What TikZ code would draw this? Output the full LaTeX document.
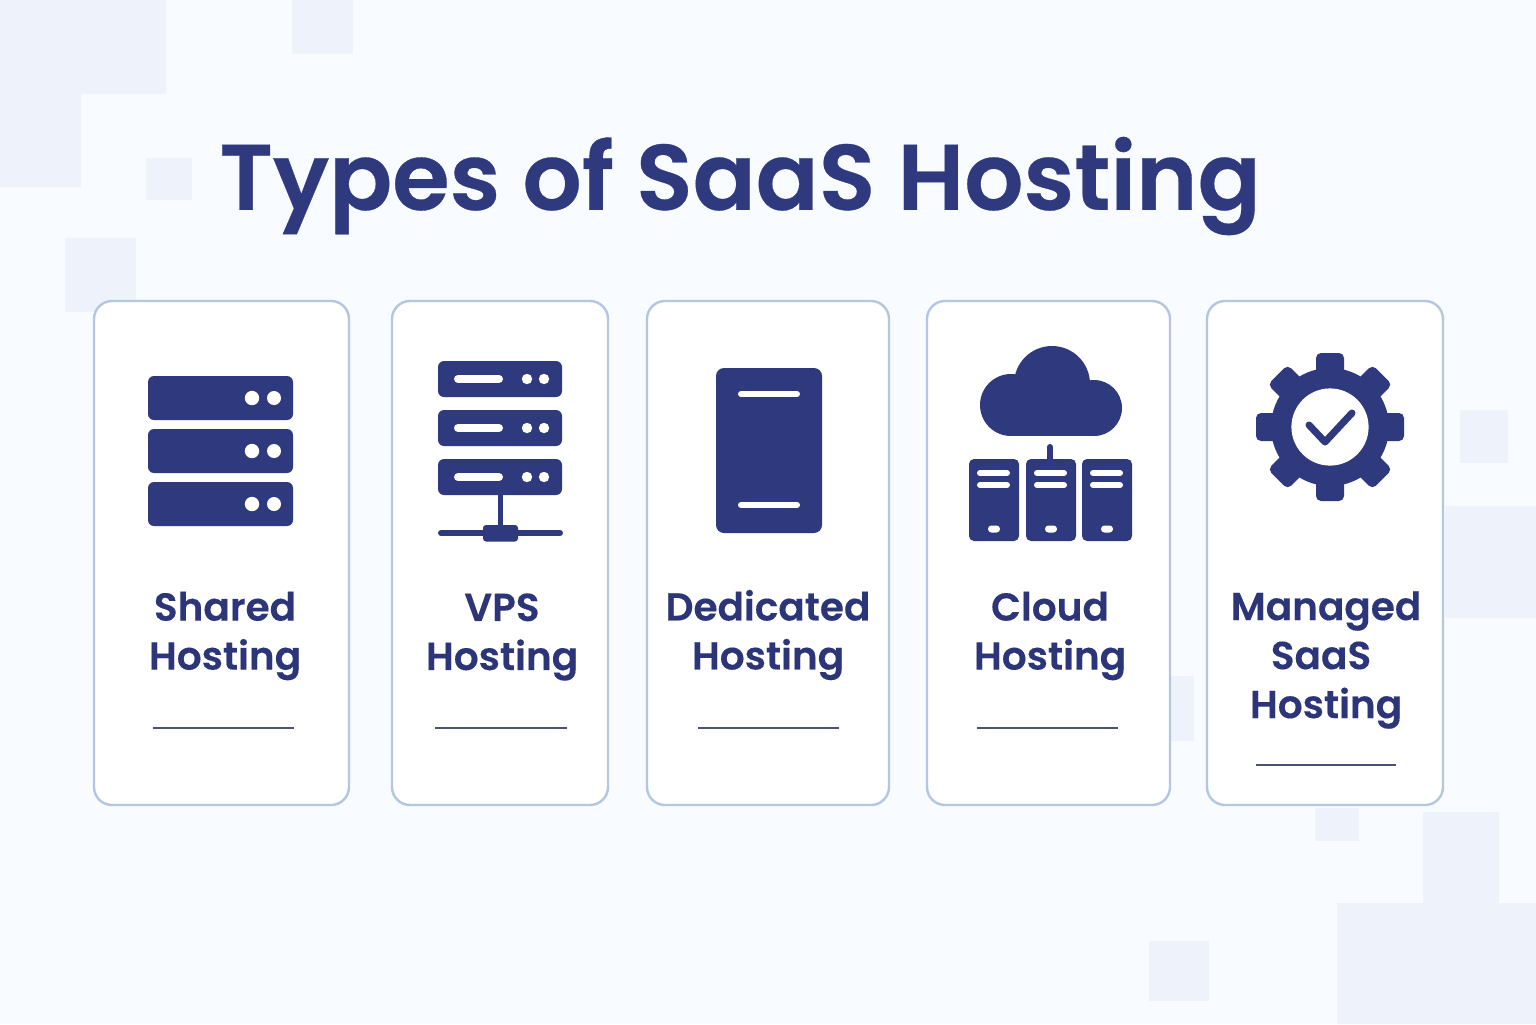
\documentclass[tikz,border=0pt]{standalone}
\usepackage{fontspec}
\usepackage{xcolor}
\setmainfont{Poppins}[BoldFont=Poppins SemiBold, BoldFeatures={FakeBold=0.2}]
\newfontfamily\titlefont{Poppins SemiBold}[FakeBold=0.35]
\usetikzlibrary{positioning}
\definecolor{navy}{HTML}{2F3A7E}
\definecolor{inktext}{HTML}{2B3578}
\definecolor{pagebg}{HTML}{F8FBFF}
\definecolor{patch}{HTML}{EEF2FB}
\definecolor{edge}{HTML}{B5C6E0}
\definecolor{rulegrey}{HTML}{4A5370}

\begin{document}
\begin{tikzpicture}[
  x=0.5pt, y=-0.5pt,
  card/.style={rectangle, draw=edge, line width=1.2pt, fill=white, rounded corners=9pt,
    minimum height=252pt, inner sep=0pt},
  cardtitle/.style={align=center, text=inktext, inner sep=0pt,
    font=\fontsize{19.5}{24.5}\selectfont\bfseries},
  icon/.style={fill=navy, rounded corners=3pt},
  smallicon/.style={fill=navy, rounded corners=2.5pt},
  whitebar/.style={draw=white, line width=3pt, line cap=round},
  navybar/.style={draw=navy, line width=3pt, line cap=round},
  divider/.style={draw=rulegrey, line width=1.3pt}
]
  \useasboundingbox (0,0) rectangle (1536,1024);
  \fill[pagebg] (0,0) rectangle (1536,1024);

  % background patches
  \fill[patch] (0,0) -- (166,0) -- (166,94) -- (81,94) -- (81,187) -- (0,187) -- cycle;
  \fill[patch] (292,0) rectangle (353,54);
  \fill[patch] (146,158) rectangle (192,200);
  \fill[patch] (65,238) rectangle (136,312);
  \fill[patch] (1460,410) rectangle (1508,463);
  \fill[patch] (1445,506) rectangle (1536,618);
  \fill[patch] (1170,676) rectangle (1194,741);
  \fill[patch] (1315,808) rectangle (1359,841);
  \fill[patch] (1423,812) -- (1499,812) -- (1499,903) -- (1536,903) -- (1536,1024) -- (1337,1024) -- (1337,903) -- (1423,903) -- cycle;
  \fill[patch] (1149,941) rectangle (1209,1001);

  \node[text=navy, inner sep=0pt, font=\fontsize{46.5}{50}\titlefont] (title) at (740,186) {Types of SaaS Hosting};

  \node[card, minimum width=127.5pt] (shared) at (221.5,553) {};
  \node[card, minimum width=108pt] (vps) at (500,553) {};
  \node[card, minimum width=121pt] (dedicated) at (768,553) {};
  \node[card, minimum width=121.5pt] (cloud) at (1048.5,553) {};
  \node[card, minimum width=118pt] (managed) at (1325,553) {};

  \node[cardtitle] (sharedtext) at (225,636) {Shared\\Hosting};
  \node[cardtitle] (vpstext) at (502,637) {VPS\\Hosting};
  \node[cardtitle] (dedicatedtext) at (768,635) {Dedicated\\Hosting};
  \node[cardtitle] (cloudtext) at (1050,636) {Cloud\\Hosting};
  \node[cardtitle] (managedtext) at (1326,660) {Managed\\SaaS\kern5pt\\Hosting};

  \draw[divider] (153,728) -- (294,728);
  \draw[divider] (435,728) -- (567,728);
  \draw[divider] (698,728) -- (839,728);
  \draw[divider] (977,728) -- (1118,728);
  \draw[divider, line width=0.9pt] (1256,765) -- (1396,765);

  % shared hosting icon
  \foreach \y in {376,429,482} {
    \fill[icon] (148,\y) rectangle (293,\y+44);
    \fill[white] (252,\y+22) circle (3.6pt);
    \fill[white] (274,\y+22) circle (3.5pt);
  }

  % vps icon
  \foreach \y in {361,410,459} {
    \fill[icon] (438,\y) rectangle (562,\y+36);
    \draw[whitebar, line width=4pt] (458,\y+18) -- (499,\y+18);
    \fill[white] (527,\y+18) circle (2.6pt);
    \fill[white] (544,\y+18) circle (2.6pt);
  }
  \fill[navy] (498,495) rectangle (503,527);
  \draw[navybar] (441,533) -- (560,533);
  \fill[icon, rounded corners=1.5pt] (483,525) rectangle (518,541.5);

  % dedicated icon
  \fill[icon, rounded corners=4pt] (716,368) rectangle (822,533);
  \draw[whitebar] (741,394) -- (797,394);
  \draw[whitebar] (741,505) -- (797,505);

  % cloud icon
  \fill[navy] (1011,405) circle (15.5pt);
  \fill[navy] (1052,384) circle (19pt);
  \fill[navy] (1094,408) circle (14pt);
  \fill[navy] (1011,400) rectangle (1094,436);
  \draw[navybar] (1050,447) -- (1050,462);
  \foreach \x in {969,1026,1082} {
    \fill[icon, rounded corners=2.5pt] (\x,459) rectangle (\x+50,541);
    \draw[whitebar] (\x+11,473) -- (\x+38,473);
    \draw[whitebar] (\x+11,485) -- (\x+38,485);
    \fill[white, rounded corners=1.7pt] (\x+19,525.5) rectangle (\x+31,532.5);
  }

  % managed icon
  \fill[navy] (1330,427) circle (29.5pt);
  \foreach \ang in {0,45,...,315} {
    \fill[smallicon, rotate around={\ang:(1330,427)}] (1316,353) rectangle (1344,400);
  }
  \fill[white] (1330,427) circle (19.3pt);
  \draw[navybar, line join=round, line width=3.5pt] (1309,425) -- (1325,442) -- (1352,413);
\end{tikzpicture}
\end{document}
